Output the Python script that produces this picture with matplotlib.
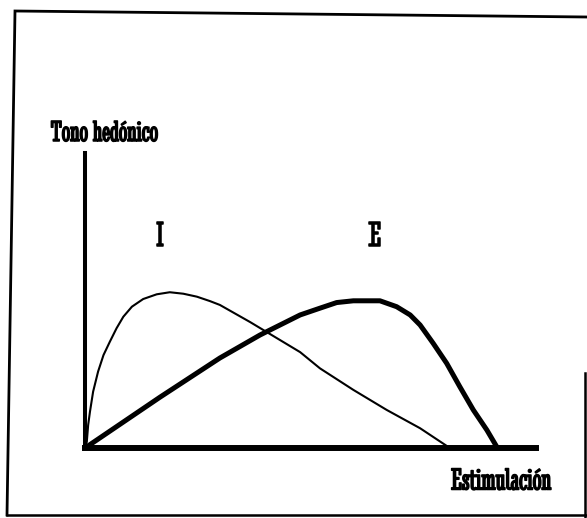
import matplotlib
matplotlib.use("Agg")
import matplotlib.pyplot as plt
import matplotlib.patheffects as pe
from matplotlib import font_manager

# curve I (thin): estimulacion vs tono hedonico
i_x = [0.0, 0.04, 0.07, 0.11, 0.18, 0.29, 0.41, 0.55, 0.70, 0.85, 1.04, 1.29, 1.59, 1.88,
       2.18, 2.48, 2.77, 2.99, 3.66, 4.77, 5.21, 5.95, 6.69, 7.43, 8.09]
i_y = [0.0, 0.21, 0.78, 1.23, 1.91, 2.59, 3.15, 3.60, 4.06, 4.45, 4.79, 5.05, 5.21, 5.28,
       5.23, 5.13, 4.98, 4.85, 4.27, 3.25, 2.70, 1.97, 1.29, 0.67, 0.0]

# curve E (thick)
e_x = [0.0, 1.66, 2.99, 3.88, 4.77, 5.21, 5.58, 5.95, 6.54, 6.91, 7.21, 7.43, 7.72, 8.02,
       8.31, 8.61, 8.91, 9.13, 9.16]
e_y = [0.0, 1.72, 3.05, 3.83, 4.51, 4.74, 4.93, 4.99, 4.99, 4.79, 4.51, 4.17, 3.55, 2.87,
       2.08, 1.29, 0.61, 0.04, 0.0]

curve_labels = ["I", "E"]
label_x = [1.66, 6.43]
label_y = [7.15, 7.15]

W, H = 587, 518

have = {f.name for f in font_manager.fontManager.ttflist}
FONT = "Stint Ultra Condensed" if "Stint Ultra Condensed" in have else "DejaVu Serif"
bold = [pe.withStroke(linewidth=1.1, foreground="black")]

fig = plt.figure(figsize=(W / 100, H / 100), dpi=100)
fig.patch.set_facecolor("white")

# scanned frame round the figure (pixel coords)
bg = fig.add_axes([0, 0, 1, 1])
bg.set_xlim(0, W)
bg.set_ylim(H, 0)
bg.axis("off")
bg.plot([7, 15, 587], [515, 11, 17], color="black", lw=2.0, solid_joinstyle="miter")
bg.plot([7, 587], [515, 515], color="black", lw=1.8)
bg.plot([585, 585], [373, 518], color="black", lw=1.8)

ax = fig.add_axes([85 / W, (H - 448) / H, 451 / W, 295 / H])
ax.set_xlim(0, 10)
ax.set_ylim(0, 10)
ax.patch.set_alpha(0)
for s in ["top", "right"]:
    ax.spines[s].set_visible(False)
ax.spines["left"].set_linewidth(2.9)
ax.spines["bottom"].set_linewidth(4.3)
ax.set_xticks([])
ax.set_yticks([])

ax.plot(i_x, i_y, color="black", lw=1.5, solid_capstyle="round", solid_joinstyle="round")
ax.plot(e_x, e_y, color="black", lw=3.6, solid_capstyle="round", solid_joinstyle="round")

for lab, x, y in zip(curve_labels, label_x, label_y):
    ax.text(x, y, lab, family=FONT, fontsize=25, ha="center", va="center", path_effects=bold)

fig.text(104.5 / W, 1 - 134 / H, "Tono hedónico", family=FONT, fontsize=21.5,
         ha="center", va="center", path_effects=bold)
fig.text(501 / W, 1 - 482 / H, "Estimulación", family=FONT, fontsize=22.5,
         ha="center", va="center", path_effects=bold)

fig.savefig("out.png", dpi=100)
